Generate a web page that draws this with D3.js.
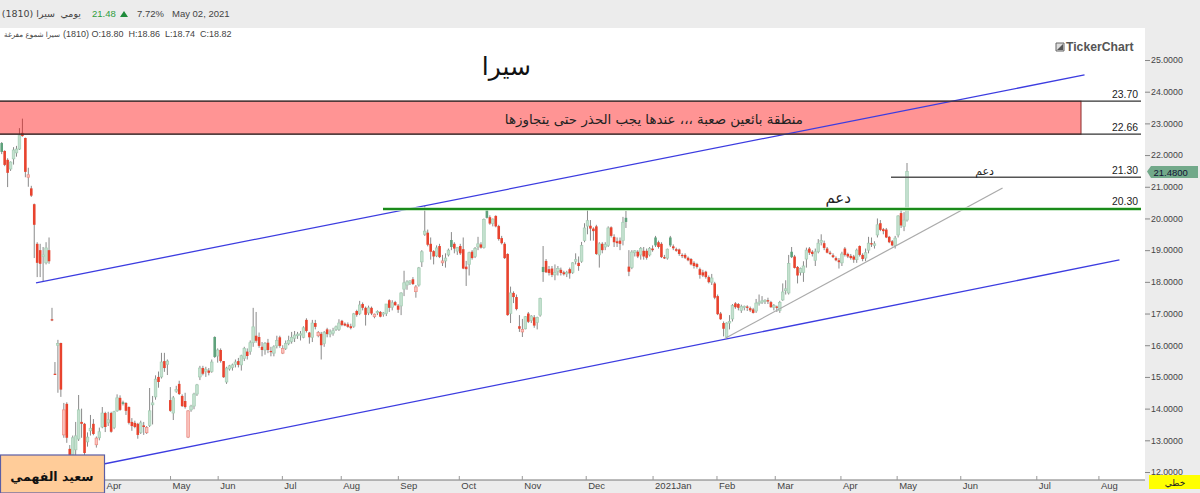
<!DOCTYPE html>
<html>
<head>
<meta charset="utf-8">
<script src="https://cdn.jsdelivr.net/npm/d3@7"></script>
<style>
html, body { margin: 0; padding: 0; background: #fff; overflow: hidden; }
text { font-family: "Liberation Sans", sans-serif; }
.ar { font-family: "DejaVu Sans", sans-serif; direction: rtl; }
</style>
</head>
<body>
<svg id="chart" width="1200" height="493"></svg>
<script>
// daily candles
const opens = [
  22.38,22.13,21.85,21.56,21.88,22.07,22.19,22.7,22.54,21.3,
  20.95,20.45,19.2,19.0,18.8,18.6,19.0,16.82,15.1,16.0,
  16.07,13.17,14.15,12.73,12.54,12.7,13.04,13.58,13.52,12.95,
  13.3,13.52,12.86,13.08,13.42,13.86,13.55,13.86,13.4,13.93,
  14.34,14.2,14.18,14.05,13.58,13.55,13.52,13.25,13.47,13.24,
  13.47,14.12,14.37,15.0,15.0,15.5,15.4,14.27,13.86,14.55,
  14.78,14.4,14.24,13.1,13.96,14.08,14.46,15.0,15.28,15.18,
  15.2,15.17,16.26,15.66,15.85,15.5,14.84,15.25,15.3,15.4,
  15.5,15.38,15.58,15.8,15.8,16.08,16.3,16.26,15.95,15.85,
  16.08,15.82,15.75,15.98,16.25,15.75,15.9,16.05,16.12,16.22,
  16.3,16.32,16.25,16.8,16.4,16.25,16.7,16.3,16.36,16.05,
  16.5,16.35,16.38,16.5,16.5,16.77,16.68,16.66,16.6,16.6,
  17.08,17.0,17.3,17.18,17.02,17.18,16.9,17.03,17.05,16.98,
  17.0,17.42,17.2,17.36,17.25,17.24,17.77,17.9,17.97,18.08,
  17.69,17.9,18.63,19.5,19.55,19.2,18.97,18.82,19.13,18.6,
  18.66,18.85,19.32,19.2,18.97,19.13,19.03,18.48,18.55,18.95,
  18.8,19.1,19.18,19.08,20.27,20.04,19.84,20.08,19.76,19.38,
  19.2,18.88,17.0,17.65,17.52,16.6,16.42,16.52,17.0,16.78,
  16.88,16.72,16.95,18.47,18.66,18.4,18.42,18.22,18.33,18.38,
  18.3,18.25,18.4,18.3,18.65,18.6,18.65,19.3,19.76,19.77,
  19.68,19.75,18.85,19.2,19.1,19.15,19.72,19.42,19.28,19.3,
  19.3,20.02,18.48,18.45,18.92,18.95,18.85,18.98,18.98,18.85,
  19.05,19.4,19.25,19.2,18.78,18.75,19.4,19.12,19.03,19.02,
  18.85,18.85,18.76,18.72,18.6,18.56,18.4,18.3,18.32,18.15,
  17.99,17.95,17.55,17.0,16.7,16.26,16.7,16.83,17.32,17.3,
  17.1,17.2,17.22,17.17,17.13,17.08,17.33,17.36,17.38,17.42,
  17.36,17.2,17.22,17.1,17.43,17.72,17.65,18.95,18.8,18.47,
  18.3,18.3,18.72,19.05,18.95,18.68,18.95,19.25,19.22,19.05,
  18.92,18.84,18.75,18.68,18.6,19.05,18.88,18.82,18.8,18.7,
  19.13,18.85,18.75,19.0,19.22,19.15,19.48,19.85,19.66,19.65,
  19.42,19.28,19.15,19.48,20.17,19.75,19.95
];
const highs = [
  22.41,22.15,21.9,21.8,22.25,22.29,22.85,23.15,22.55,21.6,
  21.03,20.47,19.25,19.2,19.1,19.25,19.4,17.18,15.47,16.17,
  16.08,14.18,14.2,12.85,13.15,13.58,14.43,14.0,13.55,13.25,
  13.8,13.67,13.12,13.4,14.05,13.9,13.9,13.9,13.93,14.45,
  14.42,14.25,14.2,14.07,13.7,13.62,13.55,13.62,13.58,13.45,
  14.65,14.4,15.05,15.17,15.76,15.76,15.55,14.68,14.4,14.72,
  14.88,14.45,14.5,13.95,14.12,14.5,14.78,15.35,15.35,15.32,
  15.28,15.55,16.28,15.9,15.9,15.5,15.32,15.38,15.42,15.55,
  15.6,15.7,15.95,15.9,16.15,17.18,17.05,16.4,16.1,16.1,
  16.2,15.95,16.0,16.3,16.3,16.0,16.15,16.3,16.42,16.45,
  16.42,16.45,16.6,16.85,16.42,16.8,16.8,16.45,16.42,16.45,
  16.55,16.5,16.55,16.62,16.82,16.8,16.72,16.72,16.68,17.02,
  17.12,17.4,17.35,17.22,17.25,17.22,17.0,17.1,17.08,17.05,
  17.3,17.45,17.42,17.4,17.3,17.67,18.35,18.05,18.05,18.15,
  17.9,18.47,19.0,20.39,19.65,19.4,19.0,19.15,19.2,18.85,
  18.9,19.05,19.57,19.25,19.1,19.2,19.4,18.66,18.95,19.0,
  19.1,19.42,19.25,20.0,20.3,20.1,20.0,20.1,19.8,19.45,
  19.25,18.9,17.85,17.7,17.6,16.95,16.83,16.92,17.05,16.95,
  16.95,16.9,17.5,19.13,18.72,18.5,18.5,18.55,18.5,18.45,
  18.35,18.35,18.45,18.62,18.9,18.8,19.26,19.85,20.27,19.95,
  19.72,19.8,19.25,19.25,19.25,19.75,19.75,19.5,19.4,19.4,
  20.05,20.24,19.0,19.0,19.0,19.0,19.1,19.1,19.05,19.1,
  19.15,19.45,19.3,19.25,18.85,19.05,19.45,19.18,19.08,19.05,
  18.9,18.9,18.8,18.75,18.65,18.6,18.45,18.38,18.35,18.2,
  18.25,18.0,17.6,17.05,16.75,16.72,16.95,17.3,17.36,17.33,
  17.28,17.25,17.26,17.22,17.18,17.46,17.6,17.55,17.45,17.5,
  17.4,17.3,17.25,17.4,17.95,18.05,18.85,19.1,18.85,18.5,
  18.45,18.65,19.08,19.1,19.0,19.05,19.35,19.5,19.3,19.1,
  18.98,18.9,18.8,18.75,18.95,19.1,18.92,18.88,18.85,19.05,
  19.15,18.9,19.05,19.42,19.4,19.28,20.0,19.95,19.7,19.7,
  19.45,19.32,19.45,20.1,20.3,20.2,21.75
];
const lows = [
  22.03,21.65,20.99,21.5,21.7,21.95,22.16,22.58,21.3,21.0,
  20.68,18.75,18.15,18.15,18.0,18.55,18.57,16.76,15.06,14.5,
  14.37,13.08,12.92,12.48,12.3,12.54,12.98,13.08,12.54,12.8,
  13.15,13.16,12.77,13.0,13.38,13.26,13.45,13.24,13.35,13.9,
  13.93,14.1,13.8,13.5,13.3,13.38,13.05,13.2,13.17,13.2,
  13.42,13.5,14.28,14.66,14.95,15.16,15.06,13.9,13.64,14.5,
  14.43,14.05,14.0,13.07,13.9,13.98,14.4,14.9,15.05,15.0,
  15.05,15.13,15.6,15.45,15.45,14.97,14.78,15.2,15.2,15.3,
  15.3,15.2,15.5,15.55,15.7,15.95,16.08,15.92,15.65,15.7,
  15.75,15.65,15.65,15.9,15.92,15.72,15.85,16.0,16.05,16.1,
  16.2,16.15,16.22,16.4,16.05,16.1,16.5,16.25,15.55,15.95,
  16.25,16.25,16.3,16.45,16.45,16.6,16.6,16.55,16.5,16.55,
  16.9,16.95,17.1,16.62,16.95,16.95,16.85,16.95,16.88,16.9,
  16.92,17.05,17.1,17.25,17.02,16.95,17.55,17.75,17.9,17.9,
  17.5,17.85,18.47,19.45,19.12,18.7,18.55,18.78,18.75,18.5,
  18.45,18.8,19.0,18.9,18.85,18.85,18.4,17.87,18.2,18.7,
  18.75,19.0,19.05,19.05,20.0,19.8,19.75,19.72,19.3,19.18,
  18.72,16.93,16.7,17.33,17.1,16.42,16.26,16.5,16.7,16.7,
  16.55,16.5,16.9,18.0,18.28,18.2,18.15,18.05,18.2,18.2,
  18.2,18.15,18.1,18.25,18.55,18.35,18.6,19.25,19.5,19.3,
  19.3,18.85,18.45,18.9,19.0,19.1,19.4,19.1,19.1,19.0,
  19.15,19.7,18.18,18.4,18.8,18.75,18.7,18.7,18.7,18.8,
  18.95,19.1,19.05,18.75,18.72,18.7,19.1,19.0,18.95,18.82,
  18.75,18.72,18.65,18.52,18.42,18.42,18.1,18.15,18.1,17.95,
  17.9,17.45,16.95,16.8,16.28,16.22,16.5,16.75,17.15,17.1,
  17.02,17.1,17.08,17.05,17.0,17.02,17.25,17.3,17.3,17.3,
  17.18,17.1,17.05,17.02,17.4,17.6,17.6,18.75,18.42,17.95,
  18.2,18.0,18.45,18.85,18.8,18.5,18.9,19.15,19.0,18.9,
  18.85,18.75,18.65,18.42,18.5,18.8,18.75,18.7,18.6,18.6,
  18.8,18.65,18.65,18.9,19.1,19.05,19.4,19.6,19.5,19.38,
  19.22,19.12,19.05,19.4,19.7,19.6,19.9
];
const closes = [
  22.1,21.69,21.44,21.78,22.16,22.19,22.63,22.6,21.47,21.38,
  20.72,19.8,18.6,18.57,18.85,19.07,18.65,16.78,15.08,16.05,
  14.6,13.96,13.08,12.54,13.08,13.14,13.96,13.52,12.6,13.1,
  13.38,13.2,13.07,13.27,13.86,13.42,13.65,13.27,13.9,14.34,
  13.96,14.15,13.93,13.55,13.45,13.42,13.17,13.55,13.42,13.4,
  13.93,14.18,14.93,14.84,15.47,15.28,15.5,13.93,14.34,14.6,
  14.46,14.08,14.05,13.93,14.08,14.46,14.75,15.28,15.1,15.24,
  15.13,15.47,15.63,15.85,15.5,14.99,15.28,15.35,15.38,15.47,
  15.38,15.67,15.9,15.66,16.08,16.58,16.14,15.98,15.85,16.05,
  15.85,15.78,15.95,16.15,15.98,15.9,16.05,16.15,16.25,16.32,
  16.35,16.36,16.55,16.45,16.25,16.7,16.58,16.4,16.0,16.4,
  16.35,16.42,16.46,16.58,16.7,16.64,16.62,16.58,16.54,16.99,
  16.96,17.27,17.18,16.96,17.18,17.0,16.98,17.06,16.9,17.02,
  17.3,17.18,17.34,17.26,17.12,17.65,17.97,18.0,18.03,17.93,
  17.84,18.44,18.95,19.6,19.17,18.95,18.8,19.07,18.78,18.66,
  18.75,19.0,19.1,19.05,19.09,18.9,18.42,18.4,18.92,18.75,
  19.05,19.2,19.08,19.97,20.02,19.84,19.98,19.75,19.35,19.22,
  18.75,16.95,17.65,17.52,17.14,16.52,16.5,16.9,16.74,16.92,
  16.62,16.88,17.47,18.31,18.3,18.28,18.22,18.3,18.42,18.28,
  18.24,18.3,18.27,18.6,18.7,18.5,19.15,19.7,19.93,19.68,
  19.6,18.88,19.2,19.0,19.18,19.7,19.45,19.25,19.22,19.2,
  19.88,19.89,18.32,18.94,18.98,18.8,19.05,18.8,18.76,19.05,
  19.0,19.15,19.1,18.78,18.74,19.03,19.15,19.06,18.98,18.88,
  18.82,18.76,18.68,18.55,18.5,18.47,18.22,18.2,18.15,17.99,
  18.12,17.5,16.98,16.82,16.52,16.7,16.75,17.25,17.2,17.18,
  17.22,17.23,17.18,17.1,17.02,17.33,17.36,17.4,17.42,17.38,
  17.2,17.25,17.18,17.35,17.68,17.78,18.58,18.78,18.44,18.2,
  18.42,18.5,19.0,18.92,18.88,18.95,19.22,19.3,19.07,18.92,
  18.88,18.78,18.68,18.62,18.88,18.85,18.8,18.75,18.7,19.0,
  18.85,18.72,18.92,19.22,19.18,19.2,19.8,19.64,19.6,19.4,
  19.25,19.15,19.38,20.08,19.78,19.95,21.48
];

const monthLabels = ['Apr','May','Jun','Jul','Aug','Sep','Oct','Nov','Dec','2021Jan','Feb','Mar','Apr','May','Jun','Jul','Aug'];
const monthIndex = [34.6,56.9,73,94.7,114.6,133.9,154.5,175.8,197.4,220,241.6,261.3,283.5,302.5,324,349.7,370.7];
const priceTicks = [12,13,14,15,16,17,18,19,20,21,22,23,24,25];

// drawn lines, as [candle index, price]
const upperChannel = [[11.6,17.97],[366,24.53]];
const lowerChannel = [[34.9,12.26],[377.8,18.69]];
const supportTrend = [[244.4,16.21],[338.3,20.96]];
const zoneLevels = [23.70,22.66];
const levelPrices = [23.70,22.66,21.30,20.30];

const width = 1200, height = 493;
const plotRight = 1145, plotBottom = 480, headerH = 28;
const svg = d3.select('#chart');

const x = d3.scaleLinear().domain([0, opens.length - 1]).range([1.7, 907]);
const y = d3.scaleLinear().domain([12, 25]).range([472, 60]);

svg.append('rect').attr('width', width).attr('height', height).attr('fill', '#fff');

// candles: hollow when close is above open, red when close is under the last close
const idx = d3.range(opens.length);
const isRed = i => i > 0 && closes[i] < closes[i - 1];
const isHollow = i => closes[i] >= opens[i];
const candles = svg.append('g');
candles.selectAll('line').data(idx).join('line')
  .attr('x1', i => x(i)).attr('x2', i => x(i))
  .attr('y1', i => y(highs[i])).attr('y2', i => y(lows[i]))
  .attr('stroke', '#8a8a8a').attr('stroke-width', 1);
candles.selectAll('rect').data(idx).join('rect')
  .attr('x', i => x(i) - 1.3).attr('width', 2.6)
  .attr('y', i => y(Math.max(opens[i], closes[i])))
  .attr('height', i => Math.max(1.2, Math.abs(y(opens[i]) - y(closes[i]))))
  .attr('fill', i => isHollow(i) ? (isRed(i) ? '#f9c2bc' : '#c4e0cf') : (isRed(i) ? '#e8432e' : '#5fa27c'))
  .attr('stroke', i => isHollow(i) ? (isRed(i) ? '#ee8a80' : '#a3cdb3') : 'none')
  .attr('stroke-width', 0.7);

// sellers zone
svg.append('rect')
  .attr('x', -2).attr('width', 1083)
  .attr('y', y(zoneLevels[0])).attr('height', y(zoneLevels[1]) - y(zoneLevels[0]))
  .attr('fill', 'rgba(255,0,0,0.42)').attr('stroke', '#8a2a2a').attr('stroke-width', 1);

const line = d3.line().x(d => x(d[0])).y(d => y(d[1]));
svg.append('path').attr('d', line(upperChannel)).attr('fill', 'none').attr('stroke', '#3c3ce0').attr('stroke-width', 1.3);
svg.append('path').attr('d', line(lowerChannel)).attr('fill', 'none').attr('stroke', '#3c3ce0').attr('stroke-width', 1.3);
svg.append('path').attr('d', line(supportTrend)).attr('fill', 'none').attr('stroke', '#aaa').attr('stroke-width', 1.2);

// horizontal levels with their labels
const levelStart = [0, 0, 891, 383];
const levelColor = ['#333', '#333', '#555', '#1a8a1a'];
const levelWidth = [1.2, 1.2, 1.3, 2];
svg.append('line').attr('x1', levelStart[3]).attr('x2', 1141)
  .attr('y1', y(levelPrices[3])).attr('y2', y(levelPrices[3]))
  .attr('stroke', '#b5e0b5').attr('stroke-width', 3.4);
levelPrices.forEach((p, k) => {
  svg.append('line').attr('x1', levelStart[k]).attr('x2', 1141)
    .attr('y1', y(p)).attr('y2', y(p))
    .attr('stroke', levelColor[k]).attr('stroke-width', levelWidth[k]);
  svg.append('text').attr('x', 1138).attr('y', y(p) - 3.5)
    .attr('text-anchor', 'end').attr('font-size', 10.4).attr('fill', '#222')
    .text(p.toFixed(2));
});

// right and bottom bands
svg.append('rect').attr('x', plotRight).attr('y', 0).attr('width', width - plotRight).attr('height', height).attr('fill', '#ececec');
svg.append('rect').attr('x', 0).attr('y', plotBottom).attr('width', width).attr('height', height - plotBottom).attr('fill', '#ececec');
svg.append('rect').attr('width', width).attr('height', headerH).attr('fill', '#ececec');

const yAxis = svg.append('g').attr('transform', `translate(${plotRight},0)`)
  .call(d3.axisRight(y).tickValues(priceTicks).tickSize(5).tickPadding(1).tickFormat(d => d.toFixed(4)));
yAxis.select('.domain').remove();
yAxis.selectAll('line').attr('stroke', '#888');
yAxis.selectAll('text').attr('font-size', 8.8).attr('fill', '#444').attr('font-family', '"Liberation Sans", sans-serif');

const xAxis = svg.append('g').attr('transform', `translate(0,${plotBottom})`)
  .call(d3.axisBottom(x).tickValues(monthIndex).tickSize(-4).tickPadding(-1).tickFormat((d, i) => monthLabels[i]));
xAxis.select('.domain').attr('d', `M0,0H${plotRight}`).attr('stroke', '#777');
xAxis.selectAll('line').attr('stroke', '#999');
xAxis.selectAll('text').attr('font-size', 9.5).attr('fill', '#444').attr('text-anchor', 'start')
  .attr('dx', 2).attr('y', 2).attr('dy', '0.71em').attr('font-family', '"Liberation Sans", sans-serif');

// header line
const head = svg.append('g').attr('font-size', 9.5).attr('fill', '#444');
head.append('text').attr('class', 'ar').attr('x', 55).attr('y', 17).attr('text-anchor', 'start').text('سيرا (1810)');
head.append('text').attr('class', 'ar').attr('x', 81).attr('y', 17).attr('text-anchor', 'start').text('يومي');
head.append('text').attr('x', 92).attr('y', 17).attr('fill', '#2e9e3e').text('21.48');
head.append('path').attr('d', 'M120,17L124,11L128,17Z').attr('fill', '#1e8a3a');
head.append('text').attr('x', 137).attr('y', 17).text('7.72%');
head.append('text').attr('x', 172).attr('y', 17).text('May 02, 2021');

const sub = svg.append('g').attr('fill', '#444');
sub.append('text').attr('class', 'ar').attr('x', 60).attr('y', 37).attr('text-anchor', 'start').attr('font-size', 7.2).text('سيرا شموع مفرغة');
sub.append('text').attr('x', 63).attr('y', 37).attr('font-size', 9).attr('xml:space', 'preserve').text('(1810) O:18.80  H:18.86  L:18.74  C:18.82');

// annotations
svg.append('text').attr('class', 'ar').attr('x', 531).attr('y', 75).attr('text-anchor', 'start')
  .attr('font-size', 25).attr('fill', '#111').text('سيرا');
svg.append('text').attr('class', 'ar').attr('x', 803).attr('y', 124).attr('text-anchor', 'start')
  .attr('font-size', 13.4).attr('fill', '#222').text('منطقة بائعين صعبة ،،، عندها يجب الحذر حتى يتجاوزها');
svg.append('text').attr('class', 'ar').attr('x', 851).attr('y', 203).attr('text-anchor', 'start')
  .attr('font-size', 15).attr('fill', '#222').text('دعم');
svg.append('text').attr('class', 'ar').attr('x', 994).attr('y', 175).attr('text-anchor', 'start')
  .attr('font-size', 11).attr('fill', '#222').text('دعم');

// logo
svg.append('path').attr('d', 'M1056,43h8v8h-8z').attr('fill', '#ddd').attr('stroke', '#666');
svg.append('path').attr('d', 'M1057,50L1063,44V50Z').attr('fill', '#555');
svg.append('text').attr('x', 1066).attr('y', 51).attr('font-size', 12.2).attr('font-weight', 'bold').attr('fill', '#555').text('TickerChart');

// last price tag
svg.append('path').attr('d', d3.line()([[1147,171.5],[1151,166],[1198,166],[1198,178],[1151,178]]) + 'Z').attr('fill', '#72a98a');
svg.append('text').attr('x', 1153.5).attr('y', 175.5).attr('font-size', 9.5).attr('fill', '#113').text('21.4800');

// line-type box
svg.append('rect').attr('x', 1149).attr('y', 475).attr('width', 51).attr('height', 14).attr('fill', '#ffff00');
svg.append('text').attr('class', 'ar').attr('x', 1175).attr('y', 486).attr('text-anchor', 'middle').attr('font-size', 9).attr('fill', '#222').text('خطي');

// author box
svg.append('rect').attr('x', 0.5).attr('y', 455).attr('width', 104).attr('height', 38).attr('fill', '#ffcc99').attr('stroke', '#5b5ea6').attr('stroke-width', 1.2);
svg.append('text').attr('class', 'ar').attr('x', 52).attr('y', 481).attr('text-anchor', 'middle').attr('font-size', 12.5).attr('font-weight', 'bold').attr('fill', '#111').text('سعيد الفهمي');
</script>
</body>
</html>
